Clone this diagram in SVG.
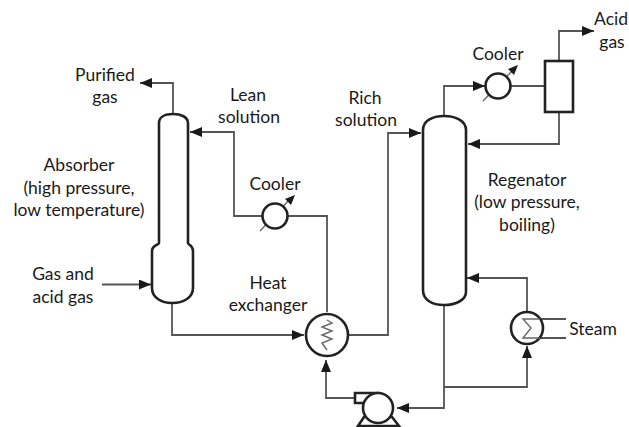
<svg xmlns="http://www.w3.org/2000/svg" width="629" height="427" viewBox="0 0 629 427">
<style>
text{font-family:Lato,"Open Sans","Liberation Sans",sans-serif;font-size:17.5px;fill:#1a1a1a;text-anchor:middle}
.c{fill:none;stroke:#555;stroke-width:1.8}
.v{fill:#fff;stroke:#222;stroke-width:2.6}
.t{fill:none;stroke:#666;stroke-width:1.4}
.a{fill:#1a1a1a;stroke:none}
</style>
<defs><marker id="ah" markerUnits="userSpaceOnUse" markerWidth="13" markerHeight="10" refX="12" refY="5" orient="auto"><path class="a" d="M0 0L12 5L0 10Z"/></marker></defs>
<rect width="629" height="427" fill="#fff"/>
<g id="connectors">
<path class="c" marker-end="url(#ah)" d="M173 114V83H140"/>
<path class="c" marker-end="url(#ah)" d="M102 284.500H151"/>
<path class="c" marker-end="url(#ah)" d="M172 303V335H304"/>
<path class="c" marker-end="url(#ah)" d="M327 312V216H234V132H190"/>
<path class="c" marker-end="url(#ah)" d="M348 335H388V133H421"/>
<path class="c" marker-end="url(#ah)" d="M444 116V86H485"/>
<path class="c" d="M511 86H545"/>
<path class="c" marker-end="url(#ah)" d="M559 61V31H594"/>
<path class="c" marker-end="url(#ah)" d="M559 112V144H468"/>
<path class="c" marker-end="url(#ah)" d="M527 312V278H467"/>
<path class="c" marker-end="url(#ah)" d="M444 387H527V346"/>
<path class="c" marker-end="url(#ah)" d="M444 305V408H397"/>
<path class="c" marker-end="url(#ah)" d="M355 398H326V360"/>
<path class="c" d="M540 319H566M540 338H566"/>
</g>
<g id="absorber"><path class="v" d="M159 243V123C159 117 165 114 173 114C181 114 188 117 188 123V243C188 245 193 245 193 251V288C193 298 183 303 172 303C162 303 152 298 152 288V251C152 245 159 245 159 243Z"/></g>
<g id="regenerator"><path class="v" d="M423 290V130C423 121 432 116 444 116C456 116 466 121 466 130V292C466 300 456 305 444 305C432 305 423 300 423 290Z"/></g>
<g id="lean-cooler"><path class="t" d="M260 231L292 197"/><path class="a" d="M295 195L291 205L285 199Z"/><circle class="v" cx="275" cy="216" r="12.5"/></g>
<g id="overhead-cooler"><path class="t" d="M483 101L515 68"/><path class="a" d="M518 65L514 75L508 69Z"/><circle class="v" cx="498" cy="86" r="12.5"/></g>
<g id="separator"><rect class="v" x="545" y="61" width="28" height="51"/></g>
<g id="heat-exchanger"><circle class="v" cx="327" cy="335" r="21"/><path class="t" d="M327 320L332 323L322 327L332 331L322 335L332 339L322 343L327 350"/></g>
<g id="reboiler"><circle class="v" cx="527" cy="328" r="16"/><path class="t" d="M540 319H523L531 328L523 338H540"/></g>
<g id="pump"><path class="v" d="M355 393H378V403H355Z"/><path class="v" d="M358 426L364 417H392L399 426Z"/><circle class="v" cx="378" cy="408" r="15"/></g>
<g id="labels">
<text x="105" y="81">Purified</text><text x="105" y="103">gas</text>
<text x="248" y="101">Lean</text><text x="249" y="123">solution</text>
<text x="275" y="190">Cooler</text>
<text x="365" y="104">Rich</text><text x="366" y="126">solution</text>
<text x="498" y="60">Cooler</text>
<text x="611" y="25">Acid</text><text x="612" y="48">gas</text>
<text x="79" y="171">Absorber</text><text x="79" y="194">(high pressure,</text><text x="79" y="216">low temperature)</text>
<text x="63" y="280">Gas and</text><text x="63" y="303">acid gas</text>
<text x="268" y="289">Heat</text><text x="268" y="311">exchanger</text>
<text x="527" y="186">Regenator</text><text x="527" y="208">(low pressure,</text><text x="527" y="231">boiling)</text>
<text x="593" y="335">Steam</text>
</g>
</svg>
